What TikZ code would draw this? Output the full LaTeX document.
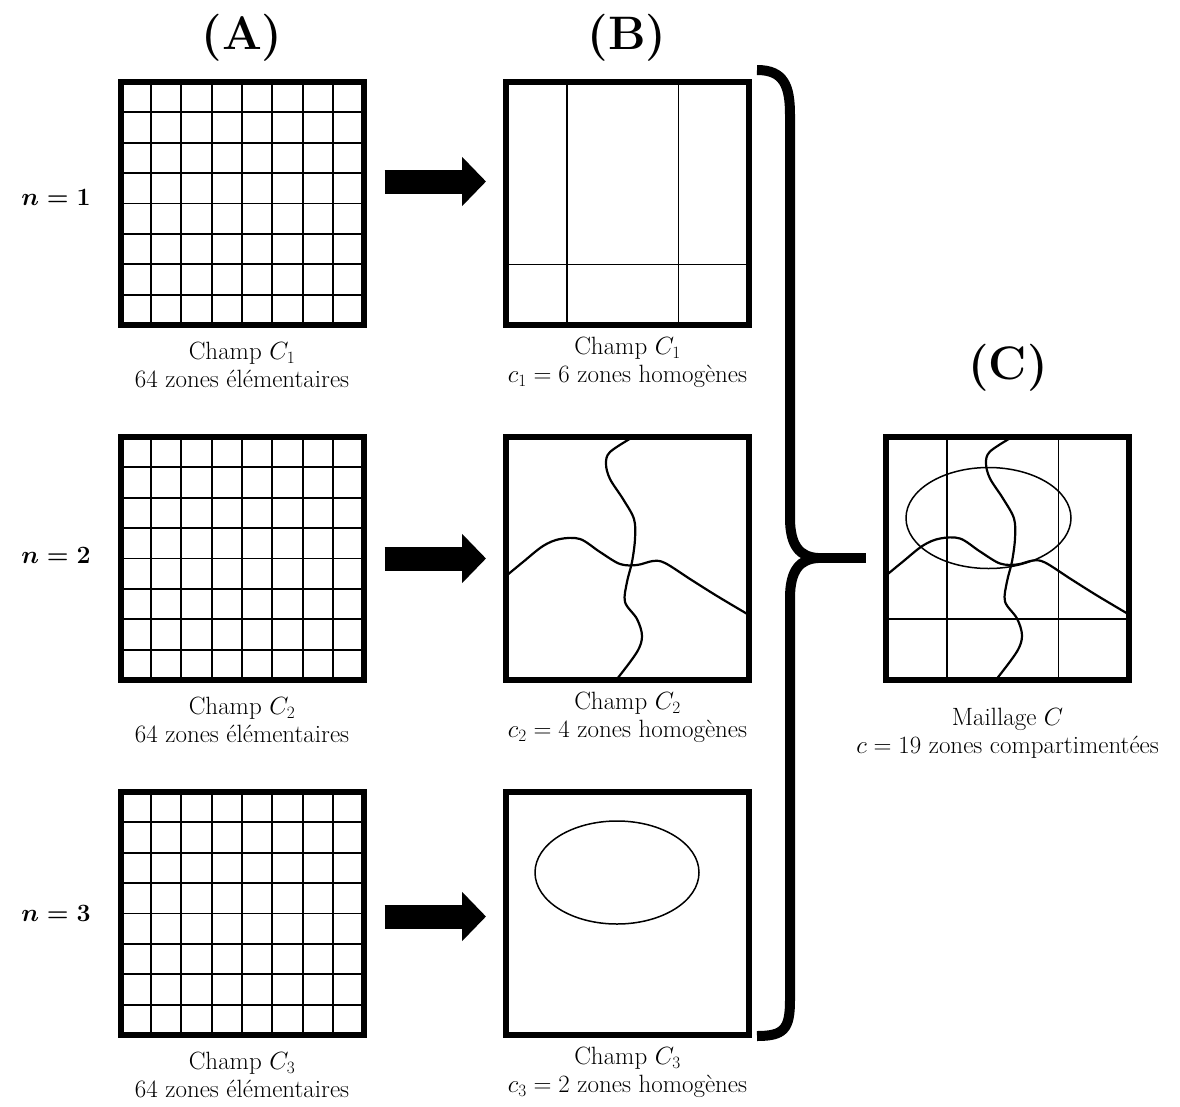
\documentclass[tikz,border=0pt]{standalone}
\usepackage{tikz}
\usepackage{amssymb}
\usetikzlibrary{positioning, arrows.meta, calc}

\newcommand{\elemgrid}[1]{%
  \foreach \i in {1,...,7} {
    \draw[gridline] ($(#1.north west)!\i/8!(#1.north east)$) -- ($(#1.south west)!\i/8!(#1.south east)$);
    \draw[gridline] ($(#1.north west)!\i/8!(#1.south west)$) -- ($(#1.north east)!\i/8!(#1.south east)$);
  }}
\newcommand{\zonelines}{%
  \draw[frontier] plot[smooth, tension=0.55] coordinates {(127,0) (104,15) (100,27) (104,42) (117,62) (128,82) (129,102) (126,125) (121,145) (119,165) (131,182) (136,199) (131,215) (111,242)};
  \draw[frontier] plot[smooth, tension=0.55] coordinates {(0,139) (17,125) (37,109) (54,102) (74,102) (94,115) (114,127) (131,128) (147,124) (159,126) (184,142) (211,159) (243,178)};
}
\newcommand{\bandlines}[1]{%
  \draw[zoneline] ($(#1.north west)!0.25!(#1.north east)$) -- ($(#1.south west)!0.25!(#1.south east)$);
  \draw[zoneline] ($(#1.north west)!0.71!(#1.north east)$) -- ($(#1.south west)!0.71!(#1.south east)$);
  \draw[zoneline] ($(#1.north west)!0.75!(#1.south west)$) -- ($(#1.north east)!0.75!(#1.south east)$);
}

\begin{document}
\begin{tikzpicture}[x=1pt, y=-1pt,
    field/.style={draw, line width=6pt, minimum size=243pt, inner sep=0pt, outer sep=0pt},
    gridline/.style={line width=1.8pt},
    zoneline/.style={line width=1.5pt},
    frontier/.style={line width=2.2pt, line join=round},
    caption/.style={align=center, inner sep=0pt, font=\fontsize{25}{28}\selectfont},
    panel/.style={font=\fontsize{47}{54}\selectfont\bfseries},
    rowlabel/.style={font=\fontsize{25}{30}\selectfont\boldmath},
    bigarrow/.style={-{Triangle[length=24pt, width=48pt]}, line width=24pt},
    brace/.style={line width=10pt, line cap=butt}]
  \useasboundingbox (0,0) rectangle (1180,1106);

  % column titles
  \node[panel] (tA) at (242,38) {(A)};
  \node[panel] (tB) at (627,38) {(B)};
  \node[panel] (tC) at (1008,368) {(C)};

  % row labels
  \node[rowlabel] (n1) at (56,197) {$n=1$};
  \node[rowlabel] (n2) at (56,555) {$n=2$};
  \node[rowlabel] (n3) at (56,913) {$n=3$};

  % elementary fields
  \node[field] (A1) at (242,203.5) {};
  \node[field] (A2) at (242,558.5) {};
  \node[field] (A3) at (242,913.5) {};
  \elemgrid{A1}
  \elemgrid{A2}
  \elemgrid{A3}
  \node[caption, below=17pt of A1] (capA1) {Champ $C_1$\\64 zones élémentaires};
  \node[caption, below=17pt of A2] (capA2) {Champ $C_2$\\64 zones élémentaires};
  \node[caption, below=17pt of A3] (capA3) {Champ $C_3$\\64 zones élémentaires};

  % homogeneous zones
  \node[field] (B1) at (627.5,203.5) {};
  \node[field] (B2) at (627.5,558.5) {};
  \node[field] (B3) at (627.5,913.5) {};
  \bandlines{B1}
  \begin{scope}[shift={(B2.north west)}]
    \zonelines
  \end{scope}
  \begin{scope}[shift={(B3.north west)}]
    \draw[zoneline] (111,80.5) ellipse [x radius=82, y radius=51.5];
  \end{scope}
  \node[caption, below=12pt of B1] (capB1) {Champ $C_1$\\$c_1=6$ zones homogènes};
  \node[caption, below=12pt of B2] (capB2) {Champ $C_2$\\$c_2=4$ zones homogènes};
  \node[caption, below=12pt of B3] (capB3) {Champ $C_3$\\$c_3=2$ zones homogènes};

  % arrows A -> B
  \draw[bigarrow] ([shift={(21,-22)}]A1.east) -- ([shift={(-20,-22)}]B1.west);
  \draw[bigarrow] ([xshift=21pt]A2.east) -- ([xshift=-20pt]B2.west);
  \draw[bigarrow] ([shift={(21,3)}]A3.east) -- ([shift={(-20,3)}]B3.west);

  % compartmented mesh
  \node[field] (C) at (1007.5,558) {};
  \bandlines{C}
  \begin{scope}[shift={(C.north west)}]
    \zonelines
    \draw[zoneline] (102.5,81.5) ellipse [x radius=82.5, y radius=50.5];
  \end{scope}
  \node[caption, below=28pt of C] (capC) {Maillage $C$\\$c=19$ zones compartimentées};

  % brace
  \coordinate (cusp) at (818,558);
  \draw[brace] (757,70) .. controls (784,70) and (790,86) .. (790,115) -- (790,518)
    .. controls (790,546) and (800,557) .. (cusp)
    .. controls (800,559) and (790,570) .. (790,598) -- (790,1000)
    .. controls (790,1029) and (784,1036) .. (757,1036);
  \draw[brace] (cusp) -- ([xshift=-20pt]C.west);
\end{tikzpicture}
\end{document}
